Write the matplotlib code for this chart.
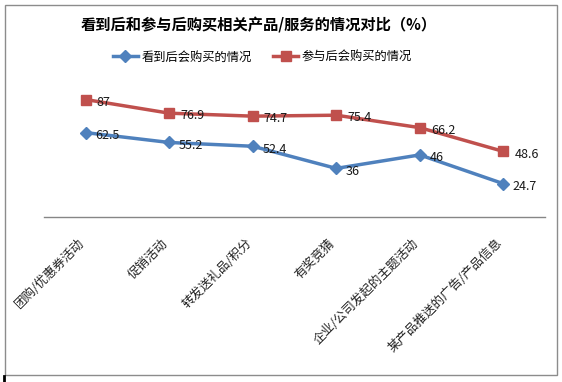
import numpy as np
import matplotlib
matplotlib.use("Agg")
import matplotlib.pyplot as plt
import matplotlib.transforms as mtransforms
from matplotlib.patches import Rectangle

plt.rcParams['font.family'] = ['Noto Sans CJK SC', 'DejaVu Sans']

categories = ["团购/优惠券活动", "促销活动", "转发送礼品/积分", "有奖竞猜",
              "企业/公司发起的主题活动", "某产品推送的广告/产品信息"]
seen = [62.5, 55.2, 52.4, 36, 46, 24.7]
joined = [87, 76.9, 74.7, 75.4, 66.2, 48.6]
series_names = ["看到后会购买的情况", "参与后会购买的情况"]
title = "看到后和参与后购买相关产品/服务的情况对比（%）"

fig = plt.figure(figsize=(5.62, 3.82), dpi=100)
fig.patch.set_facecolor("white")

# outer chart border
fig.patches.append(Rectangle((5 / 562, 1 - 375 / 382), 552 / 562, 370 / 382,
                             transform=fig.transFigure, fill=False,
                             edgecolor="#8c8c8c", lw=1))
# small mark at bottom left
fig.lines.append(plt.Line2D([3.5 / 562, 3.5 / 562], [0, 6 / 382],
                            transform=fig.transFigure, color="black", lw=2))

ax = fig.add_axes([44 / 562, 1 - 217 / 382, 501 / 562, 135 / 382])
x = np.arange(len(categories))

ax.plot(x, seen, color="#4F81BD", lw=2.5, marker="D", ms=6,
        label=series_names[0])
ax.plot(x, joined, color="#C0504D", lw=2.5, marker="s", ms=7.5,
        label=series_names[1])

for xi, v in zip(x, seen):
    ax.annotate(f"{v:g}", (xi, v), xytext=(7, -2), textcoords="offset points",
                ha="left", va="center", fontsize=9, color="#1a1a1a")
for xi, v in zip(x, joined):
    ax.annotate(f"{v:g}", (xi, v), xytext=(8, -2), textcoords="offset points",
                ha="left", va="center", fontsize=9, color="#1a1a1a")

ax.set_xlim(-0.5, len(categories) - 0.5)
ax.set_ylim(0, 100)
ax.set_yticks([])
ax.set_xticks(x)
ax.set_xticklabels(categories, rotation=45, ha="right", rotation_mode="anchor",
                   fontsize=9, color="#222222")
ax.tick_params(axis="x", length=0, pad=14)
shift = mtransforms.ScaledTranslation(-8 / 100, 0, fig.dpi_scale_trans)
for lab in ax.get_xticklabels():
    lab.set_transform(lab.get_transform() + shift)
for side in ["top", "right", "left"]:
    ax.spines[side].set_visible(False)
ax.spines["bottom"].set_color("#868686")
ax.spines["bottom"].set_linewidth(1)

fig.text(0.46, 1 - 24 / 382, title, ha="center", va="center",
         fontsize=11, fontweight="bold")
fig.legend(loc="center", bbox_to_anchor=(0.467, 1 - 57 / 382), ncol=2,
           frameon=False, fontsize=8.8, handlelength=2.0, columnspacing=1.8,
           handletextpad=0.3)

plt.savefig("out.png", dpi=100, facecolor="white")
plt.close()
